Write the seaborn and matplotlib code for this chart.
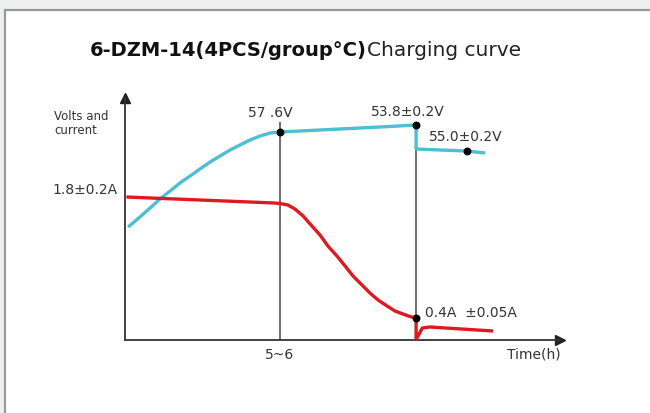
import numpy as np
import pandas as pd
import seaborn as sns
import matplotlib.pyplot as plt
from matplotlib.patches import Rectangle
from matplotlib.lines import Line2D

# Charging curve values (time in h, level in relative units)
volt_t = [0.11, 0.53, 0.89, 1.24, 1.6, 1.95, 2.31, 2.66, 3.02, 3.37, 3.73, 4.08, 4.44,
          4.79, 5.15, 5.5, 6.21, 7.63, 9.05, 10.33, 10.33, 11.18, 12.14, 12.78]
volt_y = [113, 123, 132, 141, 149, 157, 164, 171, 178, 184, 190, 195, 200,
          204, 207, 208, 209, 211, 213, 215, 191, 190, 189, 187]
curr_t = [0.05, 2.66, 5.3, 5.5, 5.78, 6.03, 6.32, 6.6, 6.92, 7.2, 7.52, 7.81, 8.09, 8.41,
          8.69, 8.98, 9.3, 9.58, 9.86, 10.11, 10.33, 10.33, 10.4, 10.55, 10.82, 13.06]
curr_y = [143, 140, 137, 136.5, 135, 131, 124, 115, 105, 94, 84, 74, 64, 55,
          47, 40, 34, 29, 26, 23.5, 22, 1, 4, 12, 13, 9]

# marked points
mark_t = [5.5, 10.33, 12.14, 10.33]
mark_y = [208, 215, 189, 22]
step_t = [5.5, 10.33]
step_top = 218

W, H = 650, 413
fig = plt.figure(figsize=(6.5, 4.13), dpi=100)
sns.set_theme(style='white')
plt.rcParams['font.family'] = ['DejaVu Sans']
fig.patch.set_facecolor('white')

# frame of the screenshot panel
fig.patches.append(Rectangle((0, 1 - 9 / H), 1, 9 / H, transform=fig.transFigure,
                             color='#eef0ef', zorder=0))
fig.patches.append(Rectangle((0, 0), 4 / W, 1, transform=fig.transFigure,
                             color='#eef0ef', zorder=0))
fig.lines.append(Line2D([4.5 / W, 1], [1 - 10 / H, 1 - 10 / H], transform=fig.transFigure,
                        color='#999999', lw=1.6))
fig.lines.append(Line2D([4.5 / W, 4.5 / W], [0, 1 - 10 / H], transform=fig.transFigure,
                        color='#999999', lw=1.6))

ax = fig.add_axes([125 / W, (H - 340) / H, (560 - 125) / W, (340 - 98) / H])
ax.set_facecolor('none')
ax.set_xlim(0, 435 / 28.18)
ax.set_ylim(0, 242)

df_v = pd.DataFrame({'t': volt_t, 'y': volt_y})
df_c = pd.DataFrame({'t': curr_t, 'y': curr_y})

ax.vlines(step_t, 0, step_top, color='#555555', lw=1.2, zorder=1)
sns.lineplot(data=df_v, x='t', y='y', sort=False, estimator=None, color='#4cbfd2',
             lw=2.4, ax=ax, zorder=3, solid_joinstyle='round', solid_capstyle='butt')
sns.lineplot(data=df_c, x='t', y='y', sort=False, estimator=None, color='#e0191f',
             lw=2.4, ax=ax, zorder=3, solid_joinstyle='round', solid_capstyle='butt')
ax.scatter(mark_t, mark_y, s=22, color='black', zorder=5)

# axes with arrows
for s in ['top', 'right']:
    ax.spines[s].set_visible(False)
for s in ['left', 'bottom']:
    ax.spines[s].set_color('#333333')
    ax.spines[s].set_linewidth(1.3)
ax.plot([1], [0], marker='>', ms=7, color='#222222', transform=ax.transAxes, clip_on=False)
ax.plot([0], [1], marker='^', ms=7, color='#222222', transform=ax.transAxes, clip_on=False)

ax.set_xticks([5.5])
ax.set_xticklabels(['5~6'])
ax.set_yticks([])
ax.tick_params(axis='x', length=0, pad=6, labelsize=10, labelcolor='#333333')
ax.set_xlabel('')
ax.set_ylabel('')

lab = dict(fontsize=10, color='#333333', va='center')
ax.text(-0.25, 150, '1.8±0.2A', ha='right', **lab)
ax.text(5.15, 227, '57 .6V', ha='center', **lab)
ax.text(10.05, 228, '53.8±0.2V', ha='center', **lab)
ax.text(12.1, 203, '55.0±0.2V', ha='center', **lab)
ax.text(10.65, 27, '0.4A  ±0.05A', ha='left', **lab)
fig.text(534 / W, 1 - 355 / H, 'Time(h)', ha='center', **lab)
fig.text(54 / W, 1 - 123 / H, 'Volts and\ncurrent', ha='left', fontsize=8.5,
         color='#333333', va='center', linespacing=1.1)

# title: bold model part followed by regular text
t1 = fig.text(90 / W, 1 - 50 / H, '6-DZM-14(4PCS/group°C)', fontsize=14,
              fontweight='bold', color='#111111', va='center', ha='left')
fig.canvas.draw()
bb = t1.get_window_extent().transformed(fig.transFigure.inverted())
fig.text(bb.x1, 1 - 50 / H, 'Charging curve', fontsize=14.5, color='#222222',
         va='center', ha='left')

fig.savefig('out.png', dpi=100)
